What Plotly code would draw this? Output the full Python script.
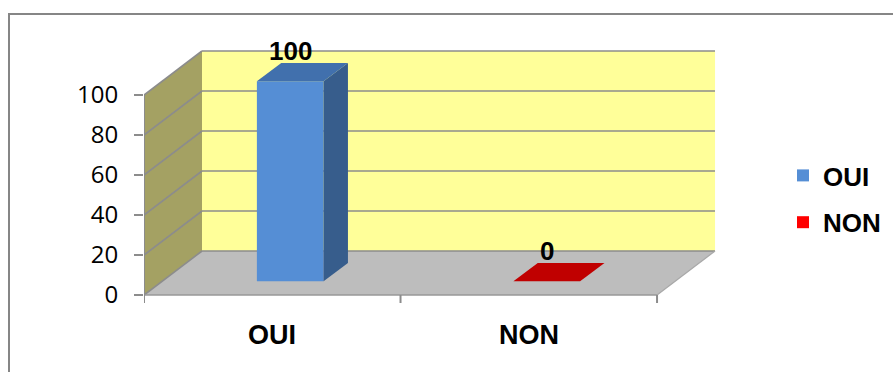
import plotly.graph_objects as go

# ---- data ----
categories = ["OUI", "NON"]
values = [100, 0]
front_colors = ["#558ED5", "#FF0000"]
side_colors = ["#375D8C", "#A00000"]
top_colors = ["#4170AD", "#C00000"]
y_ticks = [0, 20, 40, 60, 80, 100]

# ---- geometry (axis units) ----
DX = 0.2261      # depth shift in x units
DY = 22.0        # depth shift in y units
D1, D2 = 0.31, 0.73   # bar front/back depth fraction
HW = 0.13             # bar half width
XMIN, XMAX = -0.5, 1.8
YMIN, YMAX = -20, 124
L, R, T, B = 144, 159, 47, 37
W, H = 893, 372
PW = W - L - R
PH = H - T - B

def px_x(p):
    return (p - L) / PW

def px_y(p):
    return (H - B - p) / PH

GRID = "#8C8C8C"
n = len(categories)
left = -0.5
right = n - 0.5

shapes = []
# floor
shapes.append(dict(type="path", layer="below", line=dict(width=0), fillcolor="#BDBDBD",
                   path=f"M{left},0 L{right},0 L{right+DX},{DY} L{left+DX},{DY} Z"))
# back wall
shapes.append(dict(type="path", layer="below", line=dict(width=0), fillcolor="#FFFF99",
                   path=f"M{left+DX},{DY} L{right+DX},{DY} L{right+DX},{y_ticks[-1]+DY} L{left+DX},{y_ticks[-1]+DY} Z"))
# side wall
shapes.append(dict(type="path", layer="below", line=dict(width=0), fillcolor="#A4A163",
                   path=f"M{left},0 L{left+DX},{DY} L{left+DX},{y_ticks[-1]+DY} L{left},{y_ticks[-1]} Z"))
# gridlines
for v in y_ticks:
    shapes.append(dict(type="line", layer="below", x0=left, y0=v, x1=left+DX, y1=v+DY,
                       line=dict(color=GRID, width=1.6)))
    shapes.append(dict(type="line", layer="below", x0=left+DX, y0=v+DY, x1=right+DX, y1=v+DY,
                       line=dict(color=GRID, width=1.6)))
# floor front and right edges
shapes.append(dict(type="line", layer="below", x0=left, y0=0, x1=right, y1=0,
                   line=dict(color="#999999", width=1.6)))
shapes.append(dict(type="line", layer="below", x0=right, y0=0, x1=right+DX, y1=DY,
                   line=dict(color="#A8A8A8", width=1.2)))
# value axis line
shapes.append(dict(type="line", layer="below", x0=left, y0=0, x1=left, y1=y_ticks[-1],
                   line=dict(color=GRID, width=2)))
# category boundary ticks
for k in range(n + 1):
    b = left + k
    shapes.append(dict(type="line", layer="below", x0=b, y0=0, x1=b, y1=-4,
                       line=dict(color=GRID, width=2)))
# outer chart border
shapes.append(dict(type="rect", xref="paper", yref="paper",
                   x0=px_x(9), x1=px_x(900), y0=px_y(380), y1=px_y(14),
                   line=dict(color="#868686", width=2), fillcolor="rgba(0,0,0,0)"))

fig = go.Figure()

# front faces
for i, (c, v) in enumerate(zip(categories, values)):
    fig.add_trace(go.Bar(
        x=[i + D1 * DX], y=[v], base=[D1 * DY], width=[2 * HW],
        name=c, marker=dict(color=front_colors[i], line=dict(width=0)),
        legendgroup=c, hoverinfo="skip",
    ))

# top and side faces
for i, v in enumerate(values):
    x0 = i - HW + D1 * DX
    x1 = i + HW + D1 * DX
    xb0 = i - HW + D2 * DX
    xb1 = i + HW + D2 * DX
    y0f = D1 * DY
    y0b = D2 * DY
    if v > 0:
        fig.add_trace(go.Scatter(
            x=[x1, xb1, xb1, x1, x1], y=[v + y0f, v + y0b, y0b, y0f, v + y0f],
            mode="lines", fill="toself", fillcolor=side_colors[i],
            line=dict(width=0), showlegend=False, hoverinfo="skip"))
    fig.add_trace(go.Scatter(
        x=[x0, x1, xb1, xb0, x0], y=[v + y0f, v + y0f, v + y0b, v + y0b, v + y0f],
        mode="lines", fill="toself", fillcolor=top_colors[i],
        line=dict(width=0), showlegend=False, hoverinfo="skip"))

BOLD = dict(family="Liberation Sans", size=26, color="#000000", weight="bold")
annotations = []
for i, v in enumerate(values):
    annotations.append(dict(x=i + D1 * DX, y=v + DY, text=str(v), showarrow=False,
                            xanchor="center", yanchor="middle", font=BOLD))
for i, c in enumerate(categories):
    annotations.append(dict(x=i, y=-20, text=c, showarrow=False,
                            xanchor="center", yanchor="middle",
                            font=dict(BOLD, size=27)))

fig.update_layout(
    width=W, height=H,
    margin=dict(l=L, r=R, t=T, b=B, autoexpand=False),
    paper_bgcolor="white", plot_bgcolor="rgba(0,0,0,0)",
    barmode="overlay",
    showlegend=True,
    legend=dict(x=px_x(783), y=px_y(199), xanchor="left", yanchor="middle",
                font=BOLD, tracegroupgap=10, traceorder="grouped",
                bgcolor="rgba(0,0,0,0)"),
    xaxis=dict(range=[XMIN, XMAX], visible=False, fixedrange=True),
    yaxis=dict(range=[YMIN, YMAX], tickvals=y_ticks, ticktext=[str(t) for t in y_ticks],
               ticks="outside", ticklen=9, tickwidth=2, tickcolor=GRID,
               showgrid=False, zeroline=False, showline=False, ticklabelstandoff=11,
               tickfont=dict(family="Open Sans", size=24, color="#000000"), fixedrange=True),
    shapes=shapes, annotations=annotations,
)

fig.write_html("out.html", config={"displayModeBar": False},
               post_script="document.body.style.margin='0';document.body.style.overflow='hidden';")
